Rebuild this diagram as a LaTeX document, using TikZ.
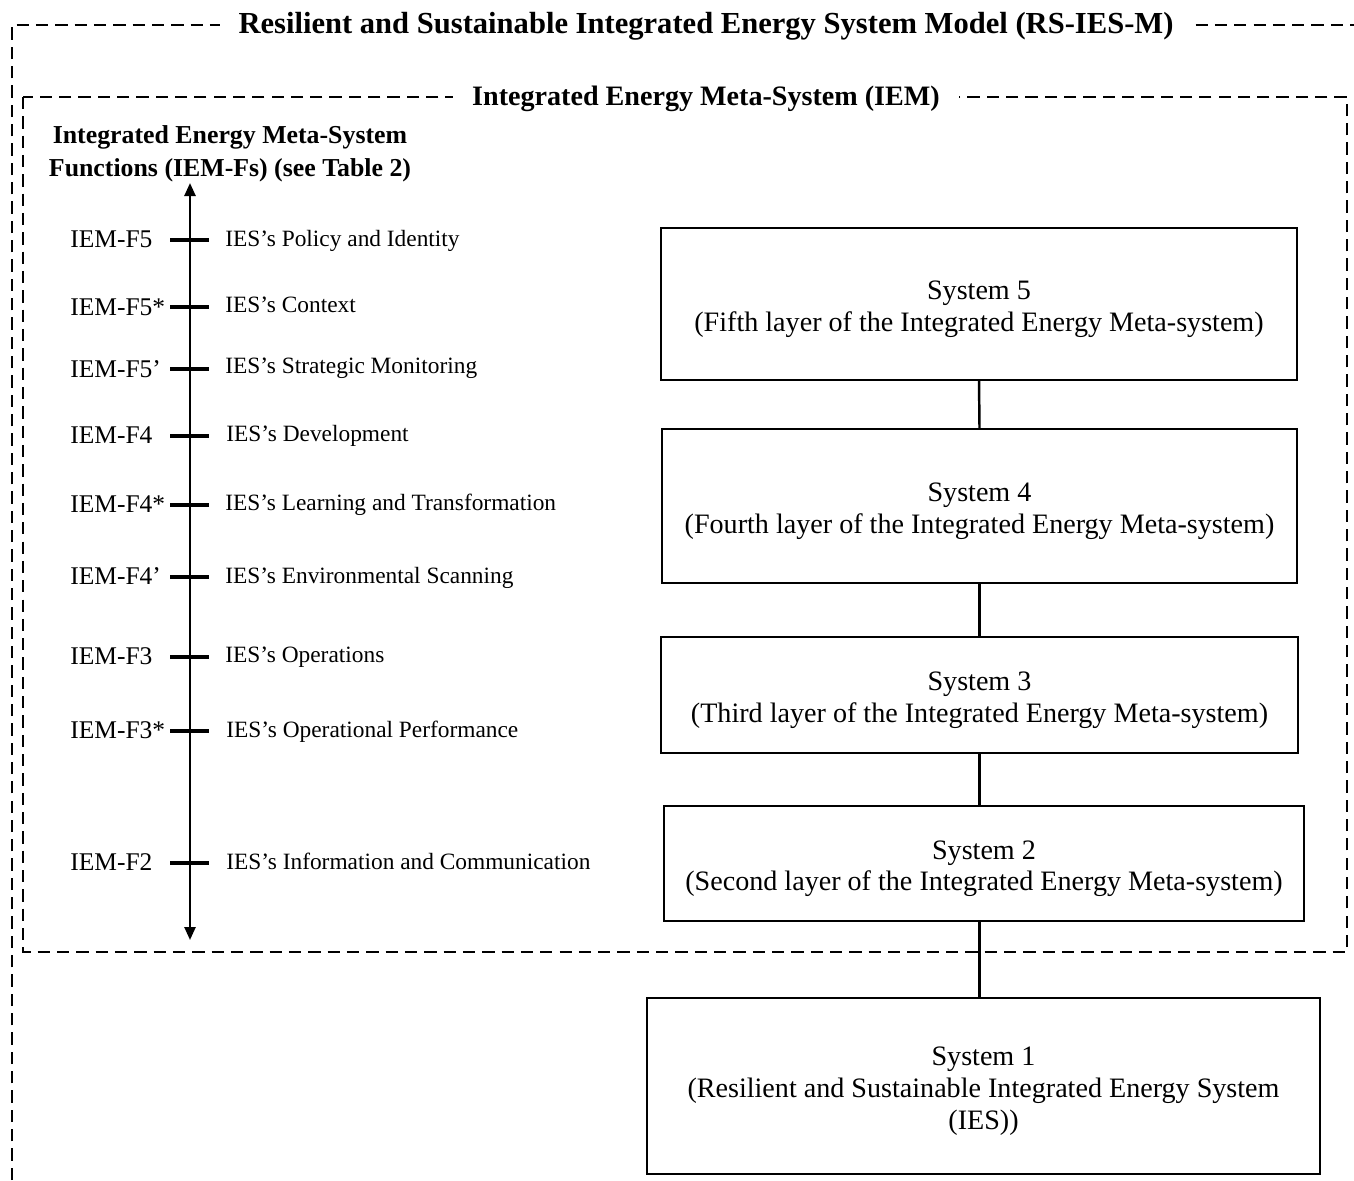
\documentclass[tikz,border=0pt]{standalone}
\usepackage{fontspec}
\setmainfont{Liberation Serif}
\usetikzlibrary{arrows.meta,positioning}
\newcommand{\sysgap}[0]{\rule{0pt}{16.5pt}}

\begin{document}
\begin{tikzpicture}[x=0.02cm,y=-0.02cm,
      frame/.style={dash pattern=on 7pt off 4pt,line width=1pt},
      title/.style={fill=white,inner xsep=0.38cm,inner ysep=1pt},
      sysbox/.style={draw,line width=1.1pt,align=center,font=\fontsize{16}{18}\selectfont},
      link/.style={line width=1.4pt},
      tick/.style={line width=1.8pt},
      fn/.style={anchor=west,inner sep=0pt,yshift=-0.05cm,text height=1.6ex,text depth=.3ex,font=\fontsize{14.5}{17}\selectfont},
      fndesc/.style={fn,font=\fontsize{13.3}{16}\selectfont},
      tip/.tip={Triangle[length=0.26cm,width=0.22cm]}]

      \useasboundingbox (0,0) rectangle (1354,1180);

      % outer model frame
      \draw[frame] (12,1180) -- (12,25) -- (1354,25);
      \node[title,font=\fontsize{17.4}{20}\selectfont\bfseries] (model) at (706,26)
        {Resilient and Sustainable Integrated Energy System Model (RS-IES-M)};

      % meta-system frame
      \draw[frame] (23,97) rectangle (1347,952);
      \node[title,font=\fontsize{16}{19}\selectfont\bfseries] (iem) at (706,99)
        {Integrated Energy Meta-System (IEM)};

      % functions axis
      \node[align=center,font=\fontsize{14.7}{18.7}\selectfont\bfseries] (fnhead) at (230,154)
        {Integrated Energy Meta-System\\Functions (IEM-Fs) (see Table 2)};
      \coordinate (axtop) at (190,183);
      \coordinate (axbot) at (190,940);
      \draw[link,tip-tip] (axtop) -- (axbot);

      \coordinate (f5)  at (190,240);
      \coordinate (f5s) at (190,307);
      \coordinate (f5p) at (190,369);
      \coordinate (f4)  at (190,436);
      \coordinate (f4s) at (190,505);
      \coordinate (f4p) at (190,577);
      \coordinate (f3)  at (190,657);
      \coordinate (f3s) at (190,731);
      \coordinate (f2)  at (190,863);

      \draw[tick] ([xshift=-0.4cm]f5)  -- ([xshift=0.38cm]f5);
      \draw[tick] ([xshift=-0.4cm]f5s) -- ([xshift=0.38cm]f5s);
      \draw[tick] ([xshift=-0.4cm]f5p) -- ([xshift=0.38cm]f5p);
      \draw[tick] ([xshift=-0.4cm]f4)  -- ([xshift=0.38cm]f4);
      \draw[tick] ([xshift=-0.4cm]f4s) -- ([xshift=0.38cm]f4s);
      \draw[tick] ([xshift=-0.4cm]f4p) -- ([xshift=0.38cm]f4p);
      \draw[tick] ([xshift=-0.4cm]f3)  -- ([xshift=0.38cm]f3);
      \draw[tick] ([xshift=-0.4cm]f3s) -- ([xshift=0.38cm]f3s);
      \draw[tick] ([xshift=-0.4cm]f2)  -- ([xshift=0.38cm]f2);

      \node[fn] (f5l)  at (70,240) {IEM-F5};
      \node[fn] (f5sl) at (70,308) {IEM-F5*};
      \node[fn] (f5pl) at (70,370) {IEM-F5’};
      \node[fn] (f4l)  at (70,436) {IEM-F4};
      \node[fn] (f4sl) at (70,505) {IEM-F4*};
      \node[fn] (f4pl) at (70,577) {IEM-F4’};
      \node[fn] (f3l)  at (70,657) {IEM-F3};
      \node[fn] (f3sl) at (70,731) {IEM-F3*};
      \node[fn] (f2l)  at (70,863) {IEM-F2};

      \node[fndesc] (f5d)  at (225,239) {IES’s Policy and Identity};
      \node[fndesc] (f5sd) at (225,305) {IES’s Context};
      \node[fndesc] (f5pd) at (225,366) {IES’s Strategic Monitoring};
      \node[fndesc] (f4d)  at (226,434) {IES’s Development};
      \node[fndesc] (f4sd) at (225,503) {IES’s Learning and Transformation};
      \node[fndesc] (f4pd) at (225,576) {IES’s Environmental Scanning};
      \node[fndesc] (f3d)  at (225,655) {IES’s Operations};
      \node[fndesc] (f3sd) at (226,730) {IES’s Operational Performance};
      \node[fndesc] (f2d)  at (226,862) {IES’s Information and Communication};

      % system layers
      \node[sysbox,minimum width=12.72cm,minimum height=3.04cm] (s5) at (979,304)
        {\sysgap System 5\\(Fifth layer of the Integrated Energy Meta-system)};
      \node[sysbox,minimum width=12.7cm,minimum height=3.08cm] (s4) at (979.5,506)
        {\sysgap System 4\\(Fourth layer of the Integrated Energy Meta-system)};
      \node[sysbox,minimum width=12.74cm,minimum height=2.32cm] (s3) at (979.5,695)
        {\sysgap System 3\\(Third layer of the Integrated Energy Meta-system)};
      \node[sysbox,minimum width=12.8cm,minimum height=2.3cm] (s2) at (984,863.5)
        {\sysgap System 2\\(Second layer of the Integrated Energy Meta-system)};
      \node[sysbox,minimum width=13.46cm,minimum height=3.52cm] (s1) at (983.5,1086)
        {\sysgap System 1\\(Resilient and Sustainable Integrated Energy System\\(IES))};

      \draw[link] (s5.south) -- (s4.north);
      \draw[link] (s4.south) -- (s3.north);
      \draw[link] (s3.south) -- (s3.south |- s2.north);
      \draw[link] (s3.south |- s2.south) -- (s3.south |- s1.north);
\end{tikzpicture}
\end{document}
